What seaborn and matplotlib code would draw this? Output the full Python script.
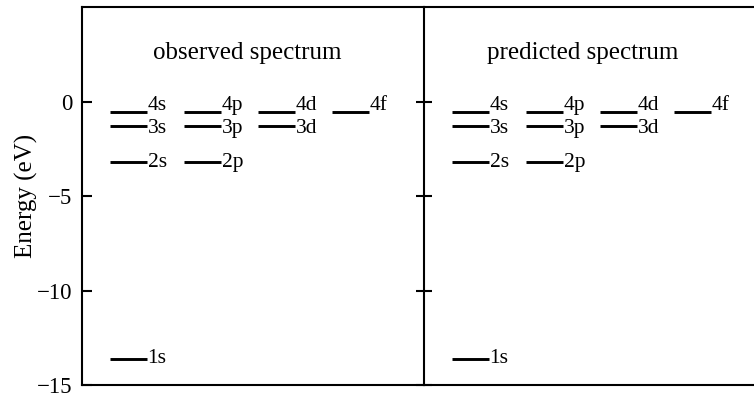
import pandas as pd
import numpy as np
import matplotlib
matplotlib.use('Agg')
import matplotlib.pyplot as plt
import seaborn as sns

sns.set_style('ticks', {'axes.edgecolor': 'black', 'text.color': 'black',
                        'ytick.color': 'black', 'axes.labelcolor': 'black'})
plt.rcParams['font.family'] = ['Liberation Serif', 'DejaVu Serif']

# energy levels (eV)
shells = [1, 2, 3, 4]
shell_energy = [-13.6, -3.2, -1.3, -0.52]
orbitals = ['s', 'p', 'd', 'f']
panel_titles = ['observed spectrum', 'predicted spectrum']
yticks = [0, -5, -10, -15]

rows = []
for n, e in zip(shells, shell_energy):
    for l in range(n):
        rows.append({'n': n, 'l': l, 'label': f'{n}{orbitals[l]}', 'energy': e})
levels = pd.DataFrame(rows)

seg = 0.5      # length of a level line, in column units
x0 = -0.378    # left margin in column units
px_per_col = 74

fig = plt.figure(figsize=(7.54, 3.93), dpi=100)
ax1 = fig.add_axes([82 / 754, 8 / 393, 342 / 754, 377.7 / 393])
ax2 = fig.add_axes([424 / 754, 8 / 393, 330 / 754, 377.7 / 393])

# small vertical nudges so the n=4 and n=3 labels do not collide
nudge = {4: 4, 3: -1.5, 2: 0, 1: 0}

for ax, title in zip([ax1, ax2], panel_titles):
    ax.hlines(levels['energy'], levels['l'], levels['l'] + seg,
              color='black', lw=2.1)
    for _, r in levels.iterrows():
        ax.annotate(r['label'], (r['l'] + seg, r['energy']),
                    xytext=(0.5, nudge[r['n']]), textcoords='offset points',
                    va='center', ha='left', fontsize=15.5)
    ax.text(0.482, 0.879, title, transform=ax.transAxes,
            ha='center', va='center', fontsize=18)
    ax.set_ylim(-15, 5)
    ax.set_xticks([])
    for s in ax.spines.values():
        s.set_linewidth(1.5)

ax1.set_xlim(x0, x0 + 342 / px_per_col)
ax2.set_xlim(x0, x0 + 330 / px_per_col)

ax1.set_yticks(yticks)
ax1.tick_params(axis='y', direction='in', length=7, width=1.5,
                labelsize=16.5, pad=7)
ax1.spines['right'].set_visible(False)
ax1.set_ylabel('Energy (eV)', fontsize=18)
ax1.yaxis.set_label_coords(-0.128, 0.5)

ax2.set_yticks(yticks)
ax2.tick_params(axis='y', direction='inout', length=11, width=1.5,
                labelleft=False)
ax2.spines['right'].set_visible(False)

fig.savefig('out.png', dpi=100)
